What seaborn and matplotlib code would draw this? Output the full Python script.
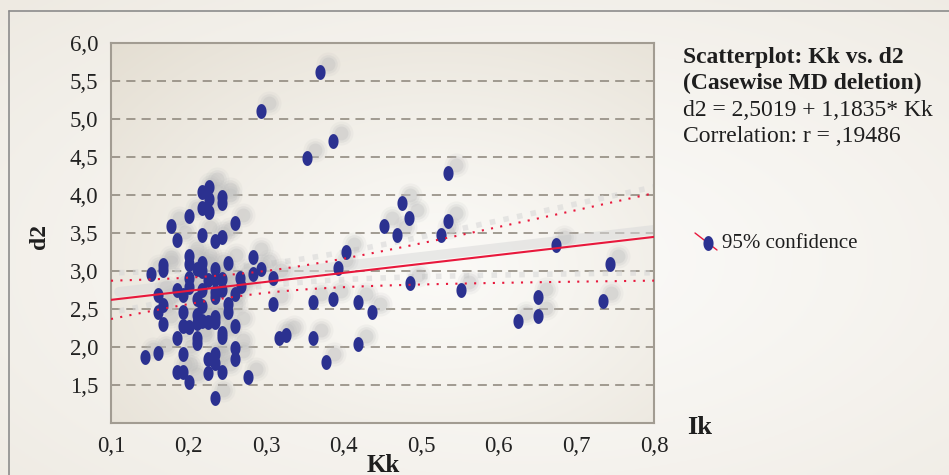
import numpy as np
import pandas as pd
import matplotlib
matplotlib.use("Agg")
import matplotlib.pyplot as plt
import matplotlib.transforms as mtransforms
from matplotlib.lines import Line2D
import seaborn as sns

# --- data ---
kk = [0.217, 0.226, 0.226, 0.243, 0.243, 0.217, 0.226, 0.201, 0.260, 0.177,
      0.217, 0.185, 0.234, 0.243, 0.201, 0.201, 0.283, 0.293, 0.167, 0.167,
      0.152, 0.217, 0.217, 0.211, 0.234, 0.251, 0.283, 0.201, 0.201, 0.225,
      0.234, 0.243, 0.266, 0.309, 0.268, 0.185, 0.193, 0.217, 0.234, 0.234,
      0.243, 0.260, 0.161, 0.211, 0.217, 0.167, 0.161, 0.193, 0.251, 0.251,
      0.309, 0.360, 0.386, 0.418, 0.436, 0.211, 0.234, 0.234, 0.225, 0.217,
      0.211, 0.167, 0.193, 0.201, 0.260, 0.243, 0.185, 0.211, 0.211, 0.243,
      0.317, 0.326, 0.360, 0.260, 0.161, 0.144, 0.193, 0.225, 0.234, 0.234,
      0.260, 0.377, 0.418, 0.193, 0.185, 0.225, 0.243, 0.201, 0.277, 0.234,
      0.403, 0.393, 0.369, 0.293, 0.386, 0.353, 0.475, 0.484, 0.452, 0.534,
      0.534, 0.469, 0.525, 0.674, 0.743, 0.485, 0.551, 0.650, 0.650, 0.625,
      0.734]
d2 = [4.04, 4.11, 3.95, 3.97, 3.89, 3.83, 3.78, 3.72, 3.63, 3.59,
      3.47, 3.41, 3.39, 3.45, 3.20, 3.09, 3.18, 3.03, 3.08, 3.01,
      2.96, 3.11, 3.00, 3.03, 3.03, 3.11, 2.96, 2.91, 2.79, 2.88,
      2.89, 2.89, 2.91, 2.91, 2.80, 2.75, 2.68, 2.75, 2.72, 2.66,
      2.75, 2.70, 2.68, 2.63, 2.54, 2.55, 2.46, 2.46, 2.57, 2.46,
      2.57, 2.59, 2.63, 2.59, 2.46, 2.42, 2.39, 2.33, 2.33, 2.34,
      2.32, 2.30, 2.28, 2.26, 2.28, 2.18, 2.12, 2.12, 2.05, 2.13,
      2.12, 2.16, 2.12, 1.99, 1.92, 1.87, 1.91, 1.84, 1.91, 1.79,
      1.84, 1.80, 2.04, 1.67, 1.67, 1.66, 1.67, 1.54, 1.61, 1.33,
      3.25, 3.04, 5.62, 5.11, 4.71, 4.49, 3.89, 3.70, 3.59, 4.29,
      3.66, 3.47, 3.47, 3.34, 3.09, 2.84, 2.75, 2.66, 2.41, 2.34,
      2.61]

intercept = 2.5019
slope = 1.1835
x_ticks = [0.1, 0.2, 0.3, 0.4, 0.5, 0.6, 0.7, 0.8]
y_ticks = [1.5, 2.0, 2.5, 3.0, 3.5, 4.0, 4.5, 5.0, 5.5, 6.0]

df = pd.DataFrame({"Kk": kk, "d2": d2})

SERIF = ["Liberation Serif", "DejaVu Serif"]
BLUE = "#2b3190"
RED = "#e8183c"
INK = "#1e1e1e"

sns.set_theme(style="white")
plt.rcParams["font.family"] = SERIF

fig = plt.figure(figsize=(9.49, 4.75), dpi=100)


def radial(ax, cx, cy, inner, outer):
    # soft radial gradient used for both backgrounds
    gx, gy = np.meshgrid(np.linspace(0, 1, 300), np.linspace(0, 1, 200))
    r = np.sqrt((gx - cx) ** 2 + (gy - cy) ** 2)
    r = np.clip(r / r.max(), 0, 1) ** 1.3
    c0 = np.array(matplotlib.colors.to_rgb(inner))
    c1 = np.array(matplotlib.colors.to_rgb(outer))
    img = c0[None, None, :] * (1 - r[..., None]) + c1[None, None, :] * r[..., None]
    ax.imshow(img, extent=[0, 1, 0, 1], origin="lower", aspect="auto")
    ax.set_xlim(0, 1)
    ax.set_ylim(0, 1)
    ax.axis("off")


# figure background + frame
bg = fig.add_axes([0, 0, 1, 1], zorder=-2)
radial(bg, 0.55, 0.45, "#fbfaf8", "#eeeae2")
bg.add_line(Line2D([9 / 949, 1], [1 - 11 / 475] * 2, color="#8c8c8c", lw=1.2))
bg.add_line(Line2D([9 / 949] * 2, [0, 1 - 11 / 475], color="#8c8c8c", lw=1.2))

pos = [111 / 949, 1 - 423 / 475, (654 - 111) / 949, (423 - 43) / 475]
abg = fig.add_axes(pos, zorder=-1)
radial(abg, 0.6, 0.4, "#fbfaf7", "#e4ded2")

ax = fig.add_axes(pos, zorder=1)
ax.set_facecolor("none")
ax.set_xlim(0.1, 0.8)
ax.set_ylim(1.0, 6.0)

for yv in y_ticks[:-1]:
    ax.axhline(yv, color="#8a8378", lw=1.1, ls=(0, (6, 4)), zorder=1)

# regression line and 95% band
xs = np.linspace(0.1, 0.8, 100)
fit = intercept + slope * xs
x_arr = np.asarray(kk)
resid = np.asarray(d2) - (intercept + slope * x_arr)
n = len(x_arr)
s = np.sqrt((resid ** 2).sum() / (n - 2))
sxx = ((x_arr - x_arr.mean()) ** 2).sum()
half = 1.98 * s * np.sqrt(1 / n + (xs - x_arr.mean()) ** 2 / sxx)

shadow = mtransforms.offset_copy(ax.transData, fig=fig, x=8, y=8, units="dots")

ax.plot(xs, fit, color="#dadada", lw=7, alpha=0.55, transform=shadow, zorder=2)
for band in (fit + half, fit - half):
    ax.plot(xs, band, color="#d6d6d6", lw=4, alpha=0.55, ls=(0, (1, 1.5)),
            transform=shadow, zorder=2)

# blurred shadows of the points
for size, alpha in [(300, 0.12), (180, 0.2), (100, 0.3)]:
    ax.scatter(df["Kk"], df["d2"], s=size, color="#bdbdbd", alpha=alpha,
               linewidths=0, transform=shadow, zorder=2)

t = np.linspace(0, 2 * np.pi, 40)
ellipse = np.column_stack([0.68 * np.cos(t), np.sin(t)])
sns.scatterplot(data=df, x="Kk", y="d2", ax=ax, color=BLUE, marker=ellipse,
                s=115, linewidth=0, zorder=4)

ax.plot(xs, fit, color=RED, lw=1.5, zorder=5)
for band in (fit + half, fit - half):
    ax.plot(xs, band, color=RED, lw=1.5, ls=(0, (1, 3.5)), zorder=5)

ax.set_xticks(x_ticks)
ax.set_yticks(y_ticks)
fmt = matplotlib.ticker.FuncFormatter(lambda v, p: f"{v:.1f}".replace(".", ","))
ax.xaxis.set_major_formatter(fmt)
ax.yaxis.set_major_formatter(fmt)
ax.tick_params(length=0, labelsize=16.5, labelcolor="#222222", pad=9)
for lab in ax.get_xticklabels() + ax.get_yticklabels():
    lab.set_family(SERIF)
for sp in ax.spines.values():
    sp.set_visible(True)
    sp.set_color("#a29c92")
    sp.set_linewidth(1.5)
ax.set_xlabel("")
ax.set_ylabel("")

fig.text(383 / 949, 1 - 465 / 475, "Kk", fontsize=18, fontweight="bold",
         ha="center", va="center", color=INK)
fig.text(40 / 949, 1 - 236 / 475, "d2", fontsize=17, fontweight="bold",
         rotation=90, ha="center", va="center", color=INK)
fig.text(700 / 949, 1 - 427 / 475, "Ik", fontsize=19, fontweight="bold",
         ha="center", va="center", color=INK)

tx = 683 / 949
fig.text(tx, 1 - 57 / 475, "Scatterplot: Kk vs. d2", fontsize=17,
         fontweight="bold", va="center", color=INK)
fig.text(tx, 1 - 83 / 475, "(Casewise MD deletion)", fontsize=17,
         fontweight="bold", va="center", color=INK)
fig.text(tx, 1 - 110 / 475, f"d2 = {intercept:.4f} + {slope:.4f}* Kk".replace(".", ","),
         fontsize=17, va="center", color=INK)
fig.text(tx, 1 - 137 / 475, "Correlation: r = ,19486", fontsize=17,
         va="center", color=INK)

# legend sample
bg.add_line(Line2D([695 / 949, 717 / 949], [1 - 233 / 475, 1 - 250 / 475],
                   color=RED, lw=1))
bg.scatter([708 / 949], [1 - 243 / 475], s=115, marker=ellipse, color=BLUE,
           linewidths=0, zorder=3)
fig.text(722 / 949, 1 - 244 / 475, "95% confidence", fontsize=15,
         va="center", color=INK)

fig.savefig("out.png", dpi=100)
